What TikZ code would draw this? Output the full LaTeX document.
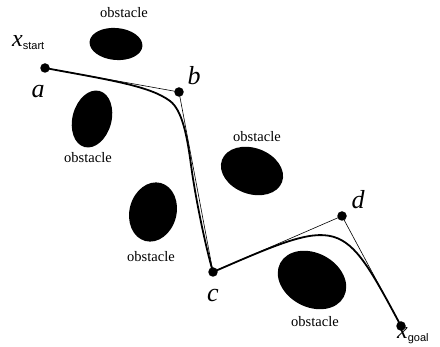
\documentclass[tikz,border=0pt]{standalone}
\usepackage{fontspec}
\setmainfont{Liberation Serif}
\newfontfamily\subsans{Liberation Sans}
\begin{document}
\begin{tikzpicture}[x=1pt,y=-1pt,
  obst/.style={fill=black},
  obstlabel/.style={font=\fontsize{14.5}{15}\selectfont, inner sep=0pt},
  ptlabel/.style={font=\fontsize{26}{28}\selectfont\itshape, inner sep=0pt},
  xlabel/.style={font=\fontsize{24}{26}\selectfont\itshape, inner sep=0pt},
  waypt/.style={circle, fill=black, minimum size=9.5pt, inner sep=0pt},
  thinline/.style={line width=0.6pt},
  thickline/.style={line width=1.8pt}]
\useasboundingbox (0,0) rectangle (440,347);
% obstacles
\fill[obst, rotate around={-5:(116,44)}] (116,44) ellipse [x radius=26.5pt, y radius=16pt];
\fill[obst, rotate around={-15:(92,119)}] (92,119) ellipse [x radius=19.5pt, y radius=29pt];
\fill[obst, rotate around={-15:(153,212)}] (153,212) ellipse [x radius=23.5pt, y radius=30pt];
\fill[obst, rotate around={-20:(252,171)}] (252,171) ellipse [x radius=32pt, y radius=23pt];
\fill[obst, rotate around={-28:(312,280)}] (312,280) ellipse [x radius=36pt, y radius=27pt];
% obstacle labels
\node[obstlabel] (o1) at (124,13) {obstacle};
\node[obstlabel] (o2) at (88,158) {obstacle};
\node[obstlabel] (o3) at (151,257) {obstacle};
\node[obstlabel] (o4) at (257,137) {obstacle};
\node[obstlabel] (o5) at (315,322) {obstacle};
% waypoints
\node[waypt] (a) at (45,68) {};
\node[waypt] (b) at (179,92) {};
\node[waypt] (c) at (213,272) {};
\node[waypt] (d) at (342,216) {};
\node[waypt] (g) at (401,326) {};
% thin polyline
\draw[thinline] (a.center) -- (b.center) -- (c.center) -- (d.center) -- (g.center);
% smooth path
\draw[thickline] (a.center) .. controls (110,80) and (150,86) .. (170,101)
  .. controls (182,110) and (187,135) .. (191,165)
  .. controls (195,195) and (205,245) .. (c.center);
\draw[thickline] (c.center) .. controls (d.center) and (d.center) .. (g.center);
% labels
\node[ptlabel] (la) at (38,92) {a};
\node[ptlabel] (lb) at (194,76) {b};
\node[ptlabel] (lc) at (213,296) {c};
\node[ptlabel] (ld) at (358,200) {d};
\node[xlabel, anchor=base west] (ls) at (12,47) {x\raisebox{-3pt}{\upshape\subsans\fontsize{11}{12}\selectfont start}};
\node[xlabel, anchor=base west] (lg) at (397,339) {x\raisebox{-3pt}{\upshape\subsans\fontsize{11}{12}\selectfont goal}};
\end{tikzpicture}
\end{document}
